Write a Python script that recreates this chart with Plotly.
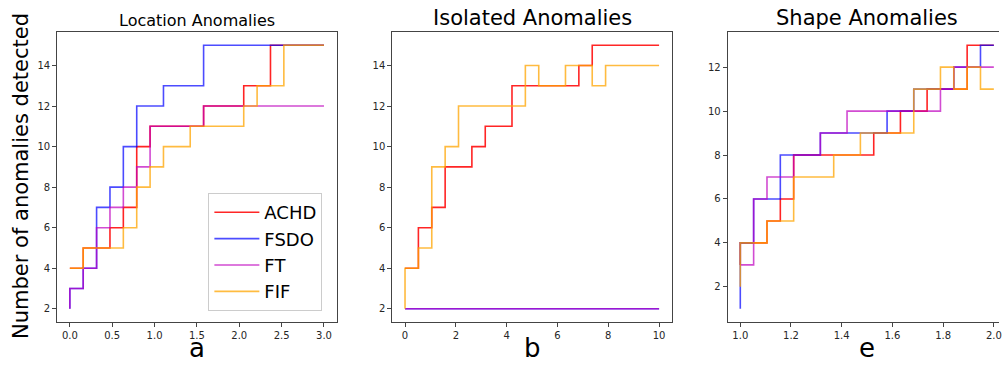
import numpy as np
import plotly.graph_objects as go

# ---------------- data ----------------
methods = ["ACHD", "FSDO", "FT", "FIF"]
colors = {"ACHD": "#ff0000", "FSDO": "#0000ff", "FT": "#bf00bf", "FIF": "#ffa500"}
opac = {"ACHD": 0.85, "FSDO": 0.7, "FT": 0.7, "FIF": 0.75}

x_a = np.linspace(0.0, 3.0, 20)
x_b = np.linspace(0.0, 10.0, 20)
x_e = np.linspace(1.0, 2.0, 20)

achd_a = [4, 4, 5, 5, 6, 7, 10, 11, 11, 11, 11, 12, 12, 12, 13, 13, 15, 15, 15, 15]
fsdo_a = [2, 3, 4, 7, 8, 10, 12, 12, 13, 13, 13, 15, 15, 15, 15, 15, 15, 15, 15, 15]
ft_a = [2, 3, 4, 6, 7, 8, 9, 11, 11, 11, 11, 12, 12, 12, 12, 12, 12, 12, 12, 12]
fif_a = [4, 4, 5, 5, 5, 6, 8, 9, 10, 10, 11, 11, 11, 11, 12, 13, 13, 15, 15, 15]

achd_b = [4, 4, 6, 7, 9, 9, 10, 11, 11, 13, 13, 13, 13, 13, 14, 15, 15, 15, 15, 15]
fsdo_b = [2, 2, 2, 2, 2, 2, 2, 2, 2, 2, 2, 2, 2, 2, 2, 2, 2, 2, 2, 2]
ft_b = [2, 2, 2, 2, 2, 2, 2, 2, 2, 2, 2, 2, 2, 2, 2, 2, 2, 2, 2, 2]
fif_b = [2, 4, 5, 9, 10, 12, 12, 12, 12, 12, 14, 13, 13, 14, 14, 13, 14, 14, 14, 14]

achd_e = [3, 4, 4, 5, 6, 8, 8, 8, 8, 8, 8, 9, 9, 10, 10, 11, 11, 11, 13, 13]
fsdo_e = [1, 4, 6, 6, 8, 8, 8, 9, 9, 9, 9, 9, 10, 10, 11, 11, 11, 12, 12, 13]
ft_e = [3, 3, 6, 7, 7, 8, 8, 9, 9, 10, 10, 10, 10, 10, 10, 10, 11, 12, 12, 12]
fif_e = [2, 4, 4, 5, 5, 7, 7, 7, 8, 8, 9, 9, 9, 9, 11, 11, 12, 11, 12, 11]

panels = [
    ("x", "y", x_a, {"ACHD": achd_a, "FSDO": fsdo_a, "FT": ft_a, "FIF": fif_a}, True),
    ("x2", "y2", x_b, {"ACHD": achd_b, "FSDO": fsdo_b, "FT": ft_b, "FIF": fif_b}, False),
    ("x3", "y3", x_e, {"ACHD": achd_e, "FSDO": fsdo_e, "FT": ft_e, "FIF": fif_e}, False),
]

titles = ["Location Anomalies", "Isolated Anomalies", "Shape Anomalies"]
xlabels = ["a", "b", "e"]

# ---------------- figure ----------------
W, H = 1002, 365
fig = go.Figure()
for xa, ya, xs, series, show in panels:
    for m in methods:
        fig.add_trace(go.Scatter(
            x=xs, y=series[m], mode="lines", name=m,
            line=dict(color=colors[m], width=1.6, shape="vh"),
            opacity=opac[m], showlegend=show, xaxis=xa, yaxis=ya,
        ))

FONT = "DejaVu Sans"
tickfont = dict(family=FONT, size=10, color="#262626")
ax_common = dict(showgrid=False, zeroline=False, showline=True, linecolor="#444",
                 linewidth=1, ticks="outside", ticklen=4, tickwidth=1, tickcolor="#444",
                 tickfont=tickfont, ticklabeloverflow="allow")

top_px, bot_px = 32, 322
ydom = [1 - bot_px / H, 1 - top_px / H]

fig.update_layout(
    width=W, height=H,
    margin=dict(l=0, r=0, t=0, b=0),
    paper_bgcolor="white", plot_bgcolor="white",
    font=dict(family=FONT, color="#000"),
    xaxis=dict(domain=[57.3 / W, 337.7 / W], range=[-0.15, 3.15], mirror=True,
               tickvals=[0, 0.5, 1, 1.5, 2, 2.5, 3],
               ticktext=["0.0", "0.5", "1.0", "1.5", "2.0", "2.5", "3.0"], anchor="y", **ax_common),
    yaxis=dict(domain=ydom, range=[1.35, 15.65], mirror=True,
               tickvals=[2, 4, 6, 8, 10, 12, 14], anchor="x", **ax_common),
    xaxis2=dict(domain=[393.5 / W, 673.8 / W], range=[-0.5, 10.5], mirror=True,
                tickvals=[0, 2, 4, 6, 8, 10], anchor="y2", **ax_common),
    yaxis2=dict(domain=ydom, range=[1.35, 15.65], mirror=True,
                tickvals=[2, 4, 6, 8, 10, 12, 14], anchor="x2", **ax_common),
    xaxis3=dict(domain=[729.8 / W, 1.0], range=[0.95, 0.95 + (W - 729.8) / 254.3], mirror=True,
                tickvals=[1.0, 1.2, 1.4, 1.6, 1.8, 2.0],
                ticktext=["1.0", "1.2", "1.4", "1.6", "1.8", "2.0"], anchor="y3", **ax_common),
    yaxis3=dict(domain=ydom, range=[0.4, 13.6], mirror=False,
                tickvals=[2, 4, 6, 8, 10, 12], anchor="x3", **ax_common),
    legend=dict(x=209 / W, y=1 - 193 / H, xanchor="left", yanchor="top",
                bgcolor="rgba(255,255,255,0.8)", bordercolor="#cccccc", borderwidth=1,
                font=dict(family=FONT, size=18, color="#000"), itemwidth=45,
                tracegroupgap=0),
)

centers = [(57.3 + 337.7) / 2, (393.5 + 673.8) / 2, 870.0]
tsizes = [16, 21, 21]
tys = [20, 18, 18]
for c, t, s, ty in zip(centers, titles, tsizes, tys):
    fig.add_annotation(text=t, x=c / W, y=1 - ty / H, xref="paper", yref="paper",
                       xanchor="center", yanchor="middle", showarrow=False,
                       font=dict(family=FONT, size=s, color="#000"))
for c, t in zip(centers, xlabels):
    fig.add_annotation(text=t, x=c / W, y=0.0, xref="paper", yref="paper",
                       xanchor="center", yanchor="bottom", showarrow=False,
                       font=dict(family=FONT, size=26, color="#000"))
fig.add_annotation(text="Number of anomalies detected", x=21 / W, y=1 - 176 / H,
                   xref="paper", yref="paper", xanchor="center", yanchor="middle",
                   textangle=-90, showarrow=False,
                   font=dict(family=FONT, size=21, color="#000"))

fig.write_html("out.html", config={"displayModeBar": False},
               post_script="document.body.style.margin='0px';")
